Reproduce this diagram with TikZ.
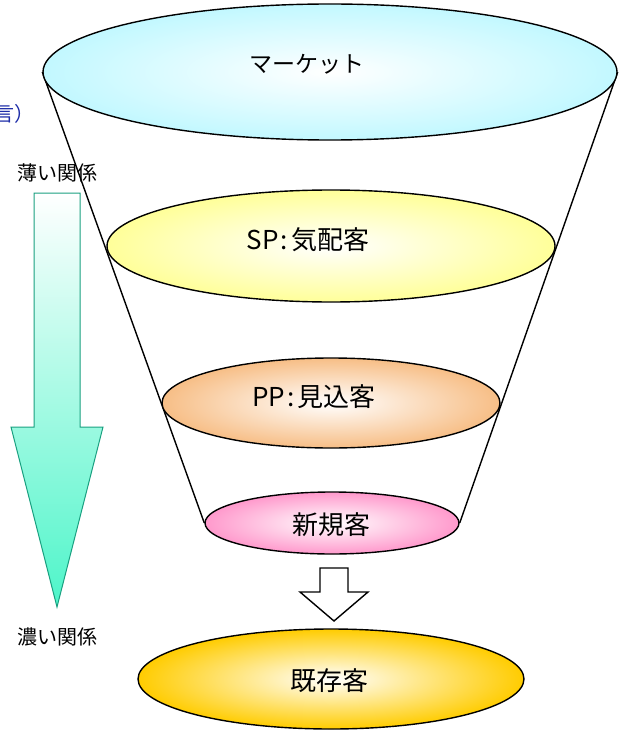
\documentclass[tikz,border=0pt]{standalone}
\usepackage{fontspec}
\setmainfont{Noto Sans CJK JP}
\usetikzlibrary{shapes.geometric,backgrounds}
\definecolor{mktc}{HTML}{C2F8FF}
\definecolor{spc}{HTML}{FFFF99}
\definecolor{ppc}{HTML}{F7BE86}
\definecolor{newc}{HTML}{FF99CC}
\definecolor{exc}{HTML}{FFCC00}
\definecolor{grnb}{HTML}{1AA080}
\definecolor{grnf}{HTML}{4DF5C9}
\definecolor{bluet}{HTML}{1E2DA8}
\tikzset{
  stage/.style={ellipse, draw=black, line width=1.4pt, inner sep=0pt},
  lbl/.style={font=\fontsize{26}{28}\selectfont, inner sep=0pt},
  side/.style={font=\fontsize{20}{22}\selectfont, inner sep=0pt},
  funnel/.style={line width=1.4pt, black},
}
\begin{document}
\begin{tikzpicture}[x=1pt,y=-1pt]
\useasboundingbox (0,0) rectangle (629,730);
% ellipses
\node[stage, minimum width=574pt, minimum height=136pt, inner color=white, outer color=mktc] (mkt) at (330,72) {};
\node[stage, minimum width=448pt, minimum height=112pt, inner color=white, outer color=spc] (sp) at (331,246) {};
\node[stage, minimum width=338pt, minimum height=90pt, inner color=white, outer color=ppc] (pp) at (331,403) {};
\node[stage, minimum width=254pt, minimum height=62pt, inner color=white, outer color=newc] (new) at (332,523) {};
\node[stage, minimum width=386pt, minimum height=100pt, inner color=white, outer color=exc] (ex) at (331,679) {};
% labels
\node[lbl, font=\fontsize{23}{26}\selectfont] (mktt) at (307,64) {マーケット};
\node[lbl] (spt) at (308,240) {SP\hspace{2pt}:\hspace{3pt}気配客};
\node[lbl] (ppt) at (314,397) {PP\hspace{2pt}:\hspace{3pt}見込客};
\node[lbl] (newt) at (331,525) {新規客};
\node[lbl] (ext) at (329,681) {既存客};
% funnel sides
\begin{scope}[on background layer]
\draw[funnel] (mkt.west) -- (new.west);
\draw[funnel] (mkt.east) -- (new.east);
\end{scope}
% hollow arrow from new to existing
\draw[line width=1.4pt, fill=white, line join=miter]
  (320,568) -- (348,568) -- (348,592) -- (368,592) -- (334,621) -- (300,592) -- (320,592) -- cycle;
% side labels
\node[side] (weak) at (57,173) {薄い関係};
\node[side] (strong) at (57,637) {濃い関係};
\node[side, text=bluet, anchor=west] (note) at (-6,114) {言）};
% green gradient arrow
\draw[draw=grnb, line width=1pt, top color=white, bottom color=grnf]
  (34,193) -- (80,193) -- (80,427) -- (103,427) -- (57,607) -- (11,427) -- (34,427) -- cycle;
\end{tikzpicture}
\end{document}
